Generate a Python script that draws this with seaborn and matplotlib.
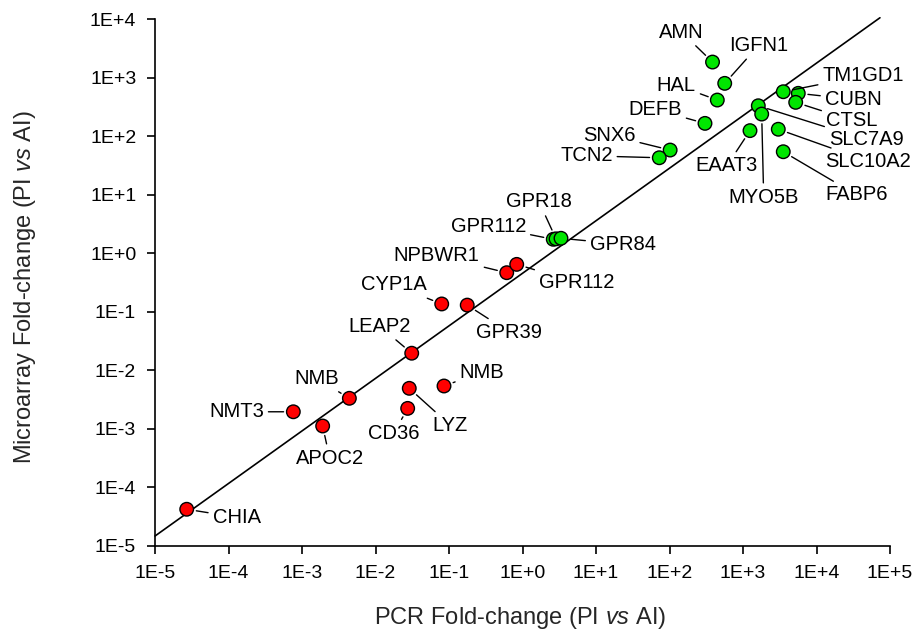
import matplotlib
matplotlib.use("Agg")
import matplotlib.pyplot as plt
import numpy as np
import pandas as pd
import seaborn as sns
from matplotlib.ticker import FixedLocator, NullLocator

# ---------------- data ----------------
genes = ["AMN", "IGFN1", "HAL", "DEFB", "SNX6", "TCN2", "TM1GD1", "CUBN", "CTSL",
         "SLC7A9", "MYO5B", "EAAT3", "SLC10A2", "FABP6", "GPR112", "GPR18", "GPR84",
         "NPBWR1", "GPR112", "CYP1A", "GPR39", "LEAP2", "NMB", "NMT3", "APOC2",
         "LYZ", "CD36", "NMB", "CHIA"]
pcr_fold = [385, 564, 447, 304, 102, 72.6, 3530, 5650, 5210,
            1615, 1796, 1245, 3020, 3530, 2.62, 2.86, 3.34,
            0.610, 0.834, 0.0796, 0.177, 0.0311, 0.00441, 0.000762, 0.00191,
            0.0288, 0.0274, 0.0855, 2.70e-5]
array_fold = [1840, 796, 413, 165, 57.8, 42.7, 573, 538, 377,
              330, 238, 124, 131, 54.1, 1.73, 1.76, 1.80,
              0.465, 0.645, 0.136, 0.130, 0.0196, 0.00333, 0.00196, 0.00112,
              0.00493, 0.00224, 0.00540, 4.24e-5]
regulation = ["up"] * 17 + ["down"] * 12

fit_x = [1e-5, 7.3e4]
fit_y = [1.48e-5, 1.05e4]

x_ticks = [1e-5, 1e-4, 1e-3, 1e-2, 1e-1, 1e0, 1e1, 1e2, 1e3, 1e4, 1e5]
x_tick_labels = ["1E-5", "1E-4", "1E-3", "1E-2", "1E-1", "1E+0", "1E+1",
                 "1E+2", "1E+3", "1E+4", "1E+5"]
y_ticks = [1e-5, 1e-4, 1e-3, 1e-2, 1e-1, 1e0, 1e1, 1e2, 1e3, 1e4]
y_tick_labels = ["1E-5", "1E-4", "1E-3", "1E-2", "1E-1", "1E+0", "1E+1",
                 "1E+2", "1E+3", "1E+4"]

# label offsets (pixels, right/up) – layout only
label_offsets = [(-31, 30), (34, 38), (-41, 15), (-50, 14), (-61, 15), (-73, 2),
                 (80, 16), (55, -6), (56, -18), (108, -34), (2, -83), (-23, -35),
                 (90, -32), (73, -43), (-65, 13), (-17, 37), (62, -6),
                 (-70, 17), (60, -18), (-48, 19), (42, -27), (-32, 27), (-33, 20),
                 (-57, 0), (7, -32), (41, -37), (-14, -25), (38, 14), (50, -8)]

df = pd.DataFrame({"gene": genes, "pcr": pcr_fold, "array": array_fold,
                   "reg": regulation})

# ---------------- style ----------------
sns.set_style("ticks")
plt.rcParams["font.family"] = ["Liberation Sans", "DejaVu Sans"]
plt.rcParams["mathtext.fontset"] = "custom"
plt.rcParams["mathtext.rm"] = "Liberation Sans"
plt.rcParams["mathtext.it"] = "Liberation Sans:italic"

fig = plt.figure(figsize=(9.19, 6.33), dpi=100)
ax = fig.add_axes([155 / 919, 1 - 546 / 633, 735 / 919, 527 / 633])
ax.set_xscale("log")
ax.set_yscale("log")

sns.lineplot(x=fit_x, y=fit_y, ax=ax, color="black", linewidth=1.2, zorder=1)
for ln in ax.lines:
    ln.set_clip_on(False)

sns.scatterplot(data=df, x="pcr", y="array", hue="reg",
                palette={"up": "#00e600", "down": "#ff0000"},
                s=95, edgecolor="black", linewidth=1.0, legend=False,
                zorder=3, ax=ax, clip_on=False)

for i, row in df.iterrows():
    dx, dy = label_offsets[i]
    ax.annotate(row["gene"], xy=(row["pcr"], row["array"]),
                xytext=(dx * 0.72, dy * 0.72), textcoords="offset points",
                ha="center", va="center", fontsize=14.5, color="black",
                arrowprops=dict(arrowstyle="-", color="black", lw=1.0,
                                shrinkA=1, shrinkB=7),
                zorder=4)

ax.set_xlim(1e-5, 1e5)
ax.set_ylim(1e-5, 1e4)
ax.xaxis.set_major_locator(FixedLocator(x_ticks))
ax.yaxis.set_major_locator(FixedLocator(y_ticks))
ax.xaxis.set_minor_locator(NullLocator())
ax.yaxis.set_minor_locator(NullLocator())
ax.set_xticklabels(x_tick_labels)
ax.set_yticklabels(y_tick_labels)

sns.despine(ax=ax)
for s in ["left", "bottom"]:
    ax.spines[s].set_linewidth(1.2)
    ax.spines[s].set_color("black")
ax.tick_params(axis="both", which="major", direction="out", length=5.5,
               width=1.2, pad=8, labelsize=14, color="black",
               labelcolor="black")

ax.set_xlabel(r"PCR Fold-change (PI $\mathit{vs}$ AI)", fontsize=17)
ax.set_ylabel(r"Microarray Fold-change (PI $\mathit{vs}$ AI)", fontsize=17)
ax.xaxis.set_label_coords(0.4966, -0.112)
ax.yaxis.set_label_coords(-0.159, 0.491)

fig.savefig("out.png", dpi=100)
